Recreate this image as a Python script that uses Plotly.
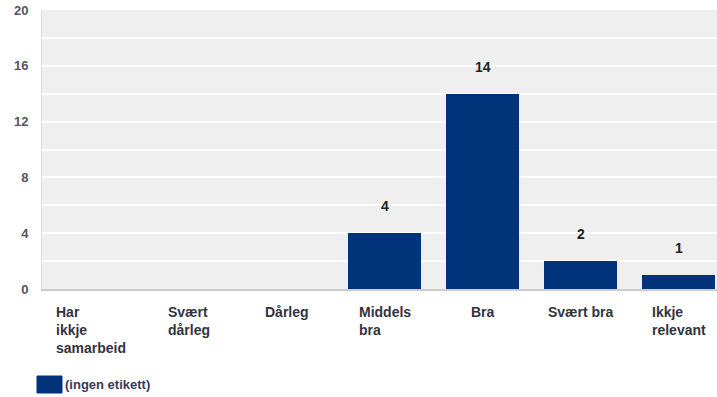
import plotly.graph_objects as go

categories = ["Har<br>ikkje<br>samarbeid", "Svært<br>dårleg", "Dårleg", "Middels<br>bra", "Bra", "Svært bra", "Ikkje<br>relevant"]
values = [0, 0, 0, 4, 14, 2, 1]
series_name = "(ingen etikett)"
bar_color = "#01337a"

x_idx = list(range(len(categories)))

W, H = 717, 397
L, T, B = 42, 10, 108
PW, PH = W - L, H - T - B

fig = go.Figure()
fig.add_trace(go.Bar(
    x=x_idx, y=values, name=series_name,
    marker=dict(color=bar_color, line=dict(width=0)),
    width=0.745, showlegend=False,
))

annotations = []
for i, v in zip(x_idx, values):
    if v > 0:
        annotations.append(dict(
            x=i, y=v, xref="x", yref="y", text=str(v), showarrow=False,
            yanchor="middle", yshift=27,
            font=dict(family="Liberation Sans", size=14, color="#222222", weight="bold"),
        ))
for i, c in zip(x_idx, categories):
    annotations.append(dict(
        x=i, y=0, xref="x", yref="paper", text=c, showarrow=False,
        xanchor="center", yanchor="top", yshift=-13, align="left",
        font=dict(family="Liberation Sans", size=14, color="#333340", weight="bold"),
    ))

def px_x(px):
    return (px - L) / PW

def px_y(py):
    return (T + PH - py) / PH

annotations.append(dict(
    x=px_x(63), y=px_y(384), xref="paper", yref="paper", text=series_name,
    showarrow=False, xanchor="left", yanchor="middle",
    font=dict(family="Liberation Sans", size=13, color="#3a3a5a", weight="bold"),
))
shapes = [dict(
    type="rect", xref="paper", yref="paper",
    x0=px_x(37), x1=px_x(62), y0=px_y(376), y1=px_y(393),
    fillcolor=bar_color, line=dict(color=bar_color, width=1), layer="above",
)]

fig.update_layout(
    width=W, height=H,
    margin=dict(l=L, r=0, t=T, b=B, pad=0),
    paper_bgcolor="white", plot_bgcolor="#efefef",
    bargap=0,
    annotations=annotations,
    shapes=shapes,
    showlegend=False,
    xaxis=dict(
        range=[-0.5, 6.39], showticklabels=False, showgrid=False, zeroline=False,
        showline=True, linecolor="#cccccc", linewidth=2, ticks="",
    ),
    yaxis=dict(
        range=[0, 20], dtick=4, showgrid=True, gridcolor="white", gridwidth=1.5,
        minor=dict(dtick=2, showgrid=True, gridcolor="white", gridwidth=1.5),
        zeroline=False, showline=True, linecolor="#dddddd", linewidth=1,
        ticks="", ticklabelstandoff=10,
        tickfont=dict(family="Liberation Sans", size=13, color="#555560", weight="bold"),
    ),
)

fig.write_html("out.html", config={"displayModeBar": False},
               post_script="document.body.style.margin='0';")
